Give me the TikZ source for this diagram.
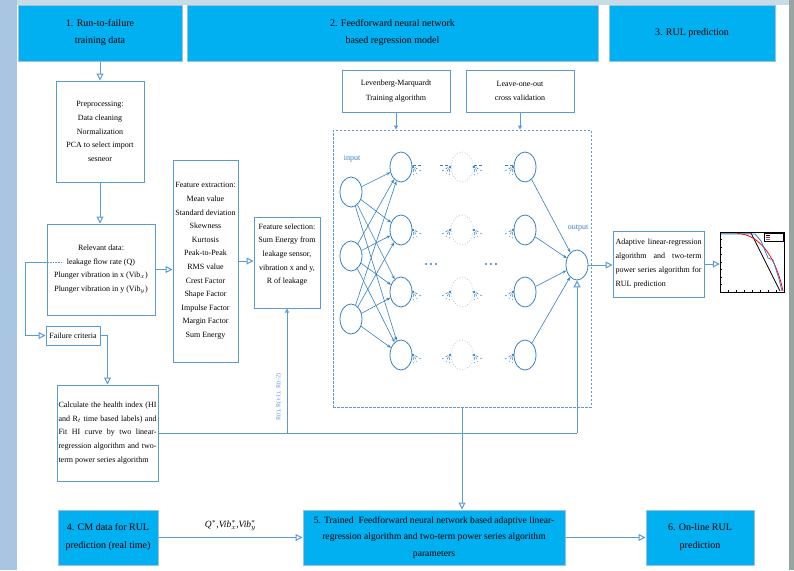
\documentclass[tikz,border=0pt]{standalone}
\usepackage{fontspec}
\setmainfont{Liberation Serif}
\usetikzlibrary{arrows.meta,shapes.geometric}
\definecolor{cyanhead}{RGB}{0,176,240}
\definecolor{lineblue}{RGB}{91,155,213}
\definecolor{nnblue}{RGB}{56,128,196}
\definecolor{fadeblue}{RGB}{170,205,235}
\definecolor{bgblue}{RGB}{168,198,226}
\definecolor{bgtop}{RGB}{200,220,232}
\definecolor{bgright}{RGB}{150,165,160}
\definecolor{headborder}{RGB}{160,190,225}
\begin{document}
\begin{tikzpicture}[x=1pt,y=-1pt,
  head/.style={draw=headborder, line width=1pt, fill=cyanhead, align=center, inner sep=0, font=\fontsize{10}{17}\selectfont},
  wbox/.style={draw=lineblue, line width=1pt, fill=white, inner sep=0, align=center, font=\fontsize{8}{13.6}\selectfont},
  conn/.style={draw=lineblue, line width=1pt, -{Triangle[open,length=7pt,width=7pt]}},
  sconn/.style={draw=lineblue, line width=1pt, -{Triangle[open,length=4pt,width=4pt]}},
  plainline/.style={draw=lineblue, line width=1pt},
  neuron/.style={ellipse, draw=nnblue, line width=0.8pt, minimum width=22pt, minimum height=30pt, inner sep=0},
  fneuron/.style={ellipse, draw=fadeblue, dotted, line width=0.8pt, minimum width=22pt, minimum height=30pt, inner sep=0},
  syn/.style={draw=nnblue, line width=0.6pt, -{Stealth[length=4pt,width=3pt]}},
  sigray/.style={draw=nnblue, densely dashed, line width=0.5pt},
  sigR/.pic={\fill[nnblue] (0,0) circle (1.3);
    \draw[sigray] (1.5,1.5) -- (4,7) (2,0.5) -- (8,4) (0.5,2) -- (0.5,8);},
  sigL/.pic={\fill[nnblue] (0,0) circle (1.3);
    \draw[sigray] (-1.5,1.5) -- (-4,7) (-2,0.5) -- (-8,4) (-0.5,2) -- (-0.5,8);},
]
\useasboundingbox (0,0) rectangle (794,570);
% background
\fill[bgblue] (0,0) rectangle (794,570);
\fill[bgtop] (17,0) rectangle (794,5);
\fill[bgright] (789,0) rectangle (794,570);
\fill[white] (17,5) rectangle (789,570);

% headers
\node[head, minimum width=164pt, minimum height=56pt] (h1) at (100,33) {1. Run-to-failure\\training data};
\node[head, minimum width=411pt, minimum height=56pt] (h2) at (392.5,33) {2. Feedforward neural network\\based regression model};
\node[head, minimum width=166pt, minimum height=56pt] (h3) at (692,33) {3. RUL prediction};

% left column
\node[wbox, minimum width=88pt, minimum height=101pt] (pre) at (100,131.5) {Preprocessing:\\Data cleaning\\Normalization\\PCA to select import\\sesneor};
\node[wbox, minimum width=108pt, minimum height=91pt] (rel) at (101,269.5) {Relevant data:\\leakage flow rate (Q)\\Plunger vibration in x (Vib$_x$)\\Plunger vibration in y (Vib$_y$)};
\node[wbox, minimum width=54pt, minimum height=19pt] (fail) at (73,335.5) {Failure criteria};
\node[wbox, minimum width=101pt, minimum height=96pt, text width=98pt, align=justify] (calc) at (107.5,433) {Calculate the health index (HI\linebreak and R$_t$ time based labels) and\linebreak Fit HI curve by two linear-\linebreak regression algorithm and two-\linebreak term power series algorithm};
\node[wbox, minimum width=65pt, minimum height=202pt] (feat) at (205.5,261) {Feature extraction:\\Mean value\\Standard deviation\\Skewness\\Kurtosis\\Peak-to-Peak\\RMS value\\Crest Factor\\Shape Factor\\Impulse Factor\\Margin Factor\\Sum Energy};
\node[wbox, minimum width=66pt, minimum height=91pt] (sel) at (287,262.5) {Feature selection:\\Sum Energy from\\leakage sensor,\\vibration x and y,\\R of leakage\\[4pt]};

% training boxes
\node[wbox, minimum width=108pt, minimum height=42pt, font=\fontsize{8}{14.5}\selectfont] (lev) at (396,91) {Levenberg-Marquardt\\Training algorithm};
\node[wbox, minimum width=108pt, minimum height=42pt, font=\fontsize{8}{14.5}\selectfont] (loo) at (520,91) {Leave-one-out\\cross validation};
\node[draw=lineblue, dashed, dash pattern=on 2.5pt off 1.5pt, line width=0.9pt, minimum width=258pt, minimum height=277pt, inner sep=0] (nnbox) at (462,268.5) {};

% neurons
\foreach \i/\y in {1/192,2/256,3/319} \node[neuron] (in\i) at (351,\y) {};
\foreach \i/\y in {1/167,2/230,3/292,4/355} {
  \node[neuron] (ha\i) at (401,\y) {};
  \node[fneuron] (hf\i) at (462,\y) {};
  \node[neuron] (hl\i) at (525,\y) {};
}
\node[neuron] (out) at (577,265) {};
\node[text=nnblue, font=\fontsize{8}{9}\selectfont] (inlab) at (352,159) {input};
\node[text=nnblue, font=\fontsize{8}{9}\selectfont] (outlab) at (578,228) {output};
\foreach \x in {426,431,436,486,491,496} \fill[nnblue] (\x,264) circle (1.1);

\foreach \i in {1,2,3} \foreach \j in {1,2,3,4} \draw[syn] (in\i) -- (ha\j);
\foreach \j in {1,2,3,4} \draw[syn] (hl\j) -- (out);

% signal stubs
\foreach \j/\y in {1/167,2/230,3/292,4/355} {
  \pic at (413,\y) {sigR};
  \pic at (450,\y) {sigL};
  \pic at (474,\y) {sigR};
  \pic at (513,\y) {sigL};
}
\draw[sigray] (413,165) -- (423,165) (440,165) -- (450,165) (474,165) -- (484,165) (505,165) -- (513,165);

% adaptive + chart
\node[wbox, minimum width=91pt, minimum height=66pt, text width=86pt, align=justify, font=\fontsize{8}{14}\selectfont] (adapt) at (658.5,264) {Adaptive linear-regression\linebreak algorithm and two-term\linebreak power series algorithm for\linebreak RUL prediction};
\node[draw=black, line width=0.5pt, fill=white, minimum width=64pt, minimum height=60pt, inner sep=0] (chart) at (752,262) {};
\begin{scope}[line width=0.3pt]
  \foreach \k in {0,...,8} {\draw (720+\k*8,292) -- (720+\k*8,290); \draw (720,232+\k*7.5) -- (722,232+\k*7.5);}
  \draw[black, line width=0.8pt] (721,233) -- (751,233) -- (780,291);
  \draw[red, line width=0.8pt] (737,233.5) .. controls (762,234) and (777,262) .. (783,291);
  \draw[nnblue, line width=0.8pt] (721,234) -- (755,234) -- (761,241) -- (768,258) -- (773,260) -- (779,279) -- (782,291);
  \draw[fill=white] (764,233) rectangle (783,241);
  \draw[black] (766,235) -- (770,235); \draw[red] (766,237) -- (770,237); \draw[nnblue] (766,239) -- (770,239);
\end{scope}

% bottom row
\node[head, minimum width=100pt, minimum height=55pt, font=\fontsize{10}{18}\selectfont] (cm) at (108,537.5) {4. CM data for RUL\\prediction (real time)};
\node[head, minimum width=262pt, minimum height=55pt, font=\fontsize{9.6}{16.5}\selectfont] (trained) at (434,537.5) {5. Trained \ Feedforward neural network based adaptive linear-\\regression algorithm and two-term power series algorithm\\parameters};
\node[head, minimum width=108pt, minimum height=55pt, font=\fontsize{10}{18}\selectfont] (online) at (700,537.5) {6. On-line RUL\\prediction};

% connectors
\draw[conn] (h1.south) -- (pre.north);
\draw[conn] (pre.south) -- (pre.south |- rel.north);
\draw[conn] ([yshift=7.5pt]rel.west) -- ++(-21,0) |- (fail.west);
\draw[densely dotted, lineblue, line width=0.6pt] ([yshift=7.5pt]rel.west) -- ++(16,0);
\draw[conn] (fail.east) -| (calc.north);
\draw[conn] (rel.east) -- (rel.east -| feat.west);
\draw[conn] (feat.east) -- (feat.east -| sel.west);
\coordinate (jsel) at (sel.south |- calc.east);
\coordinate (jout) at (out.south |- calc.east);
\draw[plainline] (calc.east) -- (jout);
\draw[sconn] (jsel) -- (sel.south);
\draw[conn] (jout) -- (out.south);
\node[rotate=90, text=lineblue, font=\fontsize{6.2}{7}\selectfont] (rlab) at (279,397) {R(t), R(t-1), R(t-2)};
\draw[sconn] (lev.south) -- (lev.south |- nnbox.north);
\draw[sconn] (loo.south) -- (loo.south |- nnbox.north);
\draw[conn] (nnbox.south) -- (nnbox.south |- trained.north);
\draw[conn] (out.east) -- (out.east -| adapt.west);
\draw[conn] (adapt.east) -- (adapt.east -| chart.west);
\draw[conn] (cm.east) -- (trained.west) node[midway, above=3pt, font=\fontsize{9.5}{10}\selectfont] {\textit{Q}$^{*}$,\textit{Vib}$^{*}_{x}$,\textit{Vib}$^{*}_{y}$};
\draw[conn] (trained.east) -- (online.west);
\end{tikzpicture}
\end{document}
